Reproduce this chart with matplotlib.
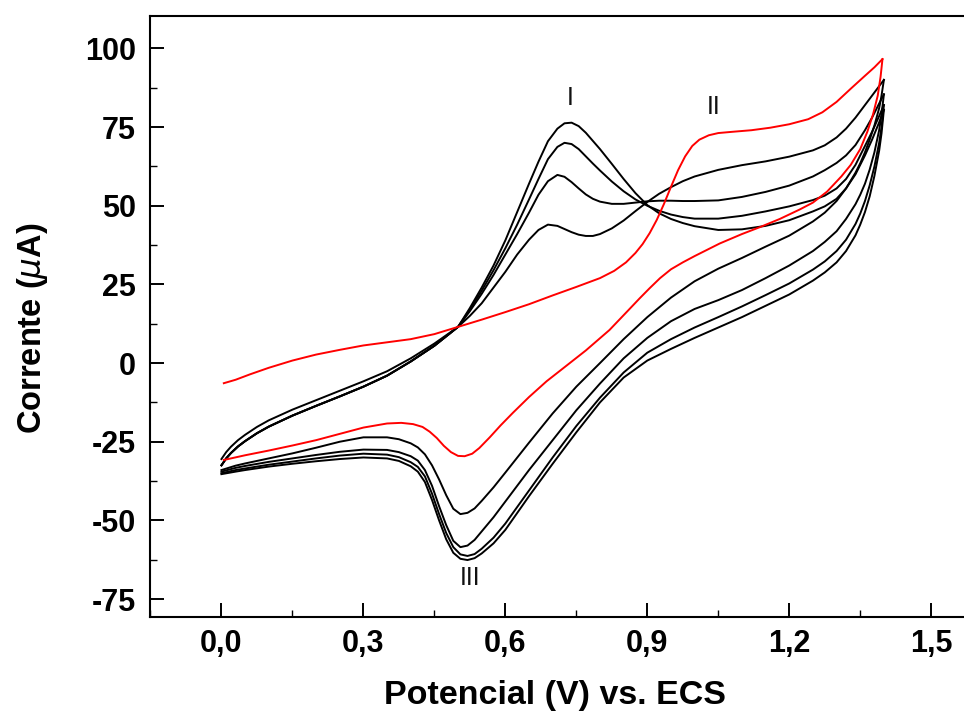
# Cyclic voltammograms: successive scans (black) and reference scan (red)
import numpy as np
import matplotlib
matplotlib.use('Agg')
import matplotlib.pyplot as plt
from matplotlib.ticker import MultipleLocator, FuncFormatter

# Forward scan potentials (V) shared by the black cycles
E_fwd = [0.00, 0.01, 0.02, 0.035, 0.05, 0.075, 0.10, 0.15, 0.20, 0.25, 0.30, 0.35,
         0.40, 0.45, 0.50, 0.525, 0.55, 0.575, 0.60, 0.625, 0.65, 0.67, 0.69, 0.71,
         0.725, 0.74, 0.755, 0.77, 0.785, 0.80, 0.825, 0.85, 0.875, 0.90, 0.925,
         0.95, 0.975, 1.00, 1.05, 1.10, 1.15, 1.20, 1.25, 1.275, 1.30, 1.32, 1.34,
         1.36, 1.375, 1.39, 1.40]

# Forward currents (uA), one list per black cycle
i_fwd_a = [-30.5, -28.3, -26.6, -24.5, -22.8, -20.3, -18.2, -14.8, -11.8, -8.8, -5.8, -2.6,
           1.5, 6.2, 11.5, 15, 19, 24, 29, 34.5, 39.2, 42.3, 44, 43.6,
           42.6, 41.6, 40.8, 40.4, 40.4, 41, 42.8, 45.3, 48.3, 51.2, 53.8,
           55.9, 57.8, 59.3, 61.4, 62.9, 64.1, 65.6, 67.6, 69.2, 71.7, 74.5, 78,
           82, 85, 88, 90]
i_fwd_b = [-32.5, -30.3, -28.6, -26.5, -24.8, -22.3, -20.2, -16.7, -13.6, -10.6, -7.5, -4,
           0.5, 5.5, 11.5, 16.5, 22, 28, 34.5, 41, 47.8, 53.5, 57.8, 59.8,
           59.2, 57.5, 55.5, 53.6, 52.2, 51.3, 50.6, 50.6, 51, 51.4, 51.6,
           51.6, 51.5, 51.5, 51.7, 52.8, 54.4, 56.4, 59.3, 61.3, 63.6, 66, 69.3,
           74, 78, 82.5, 85.4]
i_fwd_c = [-32.5, -30.3, -28.6, -26.5, -24.8, -22.3, -20.2, -16.7, -13.6, -10.6, -7.5, -4,
           0.5, 5.5, 11.5, 17, 23, 29.5, 36.5, 44, 52, 58.5, 64.8, 68.7,
           70, 69.6, 68, 65.7, 63.4, 61.2, 57.7, 54.6, 52, 50, 48.4,
           47.2, 46.4, 45.9, 45.9, 46.8, 48.2, 49.8, 51.8, 53.2, 55.5, 58.5, 63,
           69, 73.5, 78.5, 82]
i_fwd_d = [-32.5, -30.3, -28.6, -26.5, -24.8, -22.3, -20.2, -16.7, -13.6, -10.6, -7.5, -4,
           0.5, 5.5, 11.5, 17.5, 24, 31, 39, 48, 57, 64, 70.5, 74.5,
           76.2, 76.4, 75.3, 73.2, 70.6, 68, 63.3, 58.5, 54, 50.2, 47.6,
           45.8, 44.5, 43.5, 42.3, 42.5, 43.6, 45.4, 48.2, 49.8, 52.2, 55.5, 60,
           66, 71, 76.5, 80.5]

# Reverse scan potentials (V) shared by the black cycles
E_rev = [1.40, 1.395, 1.39, 1.38, 1.37, 1.36, 1.35, 1.34, 1.32, 1.30, 1.275, 1.25,
         1.20, 1.15, 1.10, 1.05, 1.00, 0.95, 0.90, 0.85, 0.80, 0.75, 0.70, 0.65,
         0.60, 0.575, 0.55, 0.535, 0.52, 0.505, 0.49, 0.475, 0.46, 0.445, 0.43,
         0.415, 0.40, 0.375, 0.35, 0.30, 0.25, 0.20, 0.15, 0.10, 0.05, 0.03,
         0.015, 0.00]

i_rev_a = [90, 85, 81, 75.5, 71, 67, 63.5, 60.5, 55.5, 51.5, 47.8, 45,
           40.5, 37, 33.4, 30, 26, 20.8, 14.6, 7.6, 0, -7.5, -16, -25.3,
           -34.8, -39.5, -43.8, -46.2, -47.6, -48, -46.3, -42, -37, -32.5, -29,
           -26.8, -25.5, -24.2, -23.6, -23.6, -25, -26.9, -28.7, -30.3, -31.9, -32.6,
           -33.3, -34]
i_rev_b = [85.4, 79, 74, 67, 61.5, 57, 53.5, 50.5, 45.8, 41.9, 38.5, 35.6,
           31, 27, 23.2, 20, 17.2, 13.3, 8, 1.5, -6.5, -15, -24.5, -34,
           -44, -49, -53.5, -56.2, -58, -58.5, -56.5, -51.5, -45.5, -39, -34,
           -31, -29.6, -28.3, -27.6, -27.5, -28.2, -29.2, -30.3, -31.4, -32.7, -33.3,
           -33.9, -34.5]
i_rev_c = [82, 75, 70, 62.5, 56.5, 51.5, 47.5, 44.2, 39.2, 35.6, 32.3, 29.7,
           25.3, 21.6, 18, 14.6, 11.3, 7.6, 3.3, -3, -11, -20, -30, -40.5,
           -51, -55.5, -59, -60.7, -61.3, -60.8, -58.5, -54, -48, -41.5, -36,
           -33, -31.5, -29.9, -29.1, -28.8, -29.4, -30.3, -31.3, -32.3, -33.5, -34,
           -34.5, -35]
i_rev_d = [80.5, 73, 67.5, 59.5, 53, 48, 44, 40.6, 35.6, 32, 28.8, 26.2,
           21.8, 18.2, 14.6, 11.3, 8, 4.5, 0.8, -4.6, -12.5, -22, -32, -42.3,
           -53, -57.3, -60.5, -62, -62.6, -62.2, -60.3, -56, -50, -43.5, -37.8,
           -34.5, -32.8, -31.1, -30.3, -30, -30.5, -31.2, -32, -32.9, -34, -34.5,
           -34.9, -35.3]

# Red scan, forward then reverse
E_red_fwd = [0.005, 0.03, 0.06, 0.10, 0.15, 0.20, 0.25, 0.30, 0.35, 0.40, 0.45, 0.50,
             0.55, 0.60, 0.65, 0.70, 0.75, 0.80, 0.83, 0.855, 0.875, 0.89, 0.905, 0.92,
             0.935, 0.95, 0.965, 0.98, 0.995, 1.01, 1.03, 1.05, 1.08, 1.12, 1.16,
             1.20, 1.24, 1.27, 1.30, 1.33, 1.36, 1.38, 1.397]
i_red_fwd = [-6.4, -5.3, -3.6, -1.5, 0.8, 2.7, 4.2, 5.6, 6.6, 7.6, 9.2, 11.5,
             13.8, 16.2, 18.7, 21.5, 24.2, 27, 29.3, 32, 35, 37.8, 41.3, 45.5,
             50.5, 56, 61.3, 65.7, 69, 71, 72.4, 73.1, 73.5, 74, 74.8,
             75.9, 77.5, 79.7, 83, 87.2, 91.3, 94, 96.6]
E_red_rev = [1.397, 1.393, 1.387, 1.377, 1.365, 1.35, 1.33, 1.31, 1.28, 1.25, 1.222,
             1.18, 1.138, 1.10, 1.053, 1.00, 0.975, 0.95, 0.927, 0.905, 0.884, 0.86,
             0.82, 0.77, 0.715, 0.687, 0.65, 0.616, 0.59, 0.567, 0.545, 0.53, 0.514,
             0.50, 0.485, 0.47, 0.455, 0.44, 0.425, 0.405, 0.38, 0.35, 0.30, 0.25,
             0.20, 0.15, 0.10, 0.05, 0.005]
i_red_rev = [96.6, 91, 85, 79, 73.5, 68, 63, 59.3, 54.5, 51, 48.8,
             45.8, 43.2, 41, 38, 34, 32, 29.8, 27, 23.8, 20.6, 16.8,
             10.5, 4, -2.5, -5.8, -10.8, -15.8, -19.8, -23.6, -27, -28.8, -29.6,
             -29.5, -28.3, -26.3, -23.8, -21.8, -20.3, -19.4, -19, -19.2, -20.5, -22.5,
             -24.5, -26.2, -27.8, -29.3, -30.8]

# Peak labels
peak_labels = ['I', 'II', 'III']
peak_x = [0.738, 1.04, 0.525]
peak_y = [84.2, 81.3, -68.3]

fig = plt.figure(figsize=(9.64, 7.13), dpi=100)
# axes run past the right edge of the picture, as in the reference
ax = fig.add_axes([150 / 964, 1 - 617 / 713, 829 / 964, 601 / 713])

lw = 1.4
for E, i in [(E_fwd, i_fwd_a), (E_fwd, i_fwd_b), (E_fwd, i_fwd_c), (E_fwd, i_fwd_d),
             (E_rev, i_rev_a), (E_rev, i_rev_b), (E_rev, i_rev_c), (E_rev, i_rev_d)]:
    ax.plot(E, i, color='black', lw=lw, solid_joinstyle='round')
ax.plot(E_red_fwd, i_red_fwd, color='#ff0000', lw=lw, solid_joinstyle='round')
ax.plot(E_red_rev, i_red_rev, color='#ff0000', lw=lw, solid_joinstyle='round')

for lab, x, y in zip(peak_labels, peak_x, peak_y):
    ax.text(x, y, lab, ha='center', va='center', fontsize=18,
            family='Liberation Sans', color='#111111')

ax.set_xlim(-0.151, 1.601)
ax.set_ylim(-80.7, 110.3)
ax.xaxis.set_major_locator(MultipleLocator(0.3))
ax.xaxis.set_minor_locator(MultipleLocator(0.15))
ax.yaxis.set_major_locator(MultipleLocator(25))
ax.yaxis.set_minor_locator(MultipleLocator(12.5))
ax.xaxis.set_major_formatter(FuncFormatter(lambda v, p: f'{v:.1f}'.replace('.', ',')))
ax.yaxis.set_major_formatter(FuncFormatter(lambda v, p: f'{v:.0f}'))

ax.tick_params(which='major', direction='in', length=10, width=1.4)
ax.tick_params(which='minor', direction='in', length=5, width=1.0)
ax.tick_params(axis='x', which='major', pad=8.5)
ax.tick_params(axis='y', which='major', pad=10)
for lbl in ax.get_xticklabels() + ax.get_yticklabels():
    lbl.set_fontfamily('Liberation Sans')
    lbl.set_fontweight('bold')
    lbl.set_fontsize(22)

for s in ax.spines.values():
    s.set_linewidth(1.5)

ax.set_xlabel('Potencial (V) vs. ECS', fontsize=24.5, fontweight='bold',
              family='Liberation Sans')
ax.xaxis.set_label_coords(0.488, -0.105)
ax.set_ylabel(r'Corrente ($\mu$A)', fontsize=23.5, fontweight='bold',
              family='Liberation Sans')
ax.yaxis.set_label_coords(-0.1206, 0.481)

fig.savefig('out.png', dpi=100)
